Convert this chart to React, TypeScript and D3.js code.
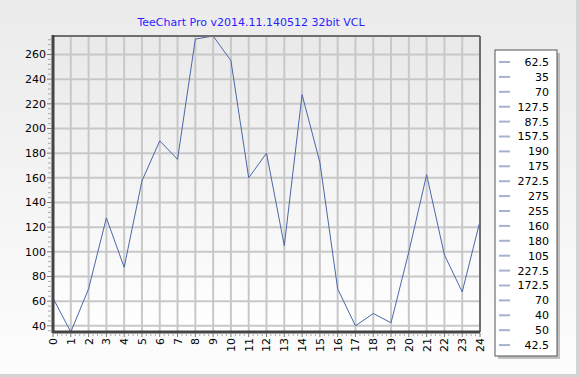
import React from "react";
import * as d3 from "d3";

const xValues = [0, 1, 2, 3, 4, 5, 6, 7, 8, 9, 10, 11, 12, 13, 14, 15, 16, 17, 18, 19, 20, 21, 22, 23, 24];
const yValues = [62.5, 35, 70, 127.5, 87.5, 157.5, 190, 175, 272.5, 275, 255, 160, 180, 105, 227.5, 172.5, 70, 40, 50, 42.5, 100, 162.5, 97.5, 67.5, 125];
const yTicks = [40, 60, 80, 100, 120, 140, 160, 180, 200, 220, 240, 260];
const legendCount = 20;
const title = "TeeChart Pro v2014.11.140512 32bit VCL";

const W = 579, H = 377;
const PL = 53, PR = 480, PT = 36, PB = 332;

export default function App() {
  const x = d3.scaleLinear().domain([0, 24]).range([PL, PR]);
  const y = d3.scaleLinear().domain([35, 275]).range([PB, PT]);
  const line = d3.line<number>().x((_, i) => x(xValues[i])).y((d) => y(d));
  const font = "'DejaVu Sans', Verdana, sans-serif";

  const yMinor: number[] = [];
  for (let v = 36; v <= 275; v += 4) if (v % 20 !== 0) yMinor.push(v);
  const xMinor: number[] = [];
  for (let i = 0; i < 24; i++) for (let k = 1; k < 4; k++) xMinor.push(i + k / 4);

  const legendItems = yValues.slice(0, legendCount);
  const LX = 495, LY = 50, LW = 62, LH = 306;

  return (
    <svg width={W} height={H} style={{ position: "absolute", left: 0, top: 0 }} xmlns="http://www.w3.org/2000/svg">
      <defs>
        <linearGradient id="bg" x1="0" y1="0" x2="0" y2="1">
          <stop offset="0" stopColor="#ebebeb" />
          <stop offset="1" stopColor="#fdfdfd" />
        </linearGradient>
        <linearGradient id="plotbg" x1="0" y1="0" x2="0" y2="1">
          <stop offset="0" stopColor="#e9e9e9" />
          <stop offset="1" stopColor="#ffffff" />
        </linearGradient>
      </defs>
      <rect x={0} y={0} width={W} height={H} fill="url(#bg)" />
      <rect x={0} y={H - 3} width={W} height={3} fill="#d4d4d4" />
      <rect x={W - 3} y={0} width={3} height={H} fill="#d4d4d4" />

      <text x={251} y={26} textAnchor="middle" fill="#2b1cff" fontFamily={font} fontSize={11}>{title}</text>

      <rect x={PL} y={PT} width={PR - PL} height={PB - PT} fill="url(#plotbg)" />
      {yTicks.map((t) => (
        <line key={"yg" + t} x1={PL} x2={PR} y1={y(t)} y2={y(t)} stroke="#c8c8c8" strokeWidth={2} />
      ))}
      {xValues.slice(1, -1).map((t) => (
        <line key={"xg" + t} x1={x(t)} x2={x(t)} y1={PT} y2={PB} stroke="#c8c8c8" strokeWidth={2} />
      ))}
      <path d={line(yValues) || ""} fill="none" stroke="#4a68a8" strokeWidth={1} />

      <line x1={PL} x2={PR} y1={PT} y2={PT} stroke="#6e6e6e" strokeWidth={2} />
      <line x1={PR} x2={PR} y1={PT} y2={PB} stroke="#6e6e6e" strokeWidth={2} />
      <line x1={PL} x2={PL} y1={PT - 1} y2={PB + 1} stroke="#444" strokeWidth={3} />
      <line x1={PL} x2={PR} y1={PB} y2={PB} stroke="#444" strokeWidth={3} />

      {yMinor.map((t) => (
        <line key={"ym" + t} x1={PL - 5} x2={PL - 1} y1={y(t)} y2={y(t)} stroke="#aaa" strokeWidth={1} />
      ))}
      {yTicks.map((t) => (
        <g key={"yt" + t}>
          <line x1={PL - 6} x2={PL - 1} y1={y(t)} y2={y(t)} stroke="#777" strokeWidth={1} />
          <text x={PL - 7} y={y(t)} dy="0.36em" textAnchor="end" fontFamily={font} fontSize={11} fill="#000">{t}</text>
        </g>
      ))}
      {xMinor.map((t, i) => (
        <line key={"xm" + i} x1={x(t)} x2={x(t)} y1={PB + 1} y2={PB + 4} stroke="#aaa" strokeWidth={1} />
      ))}
      {xValues.map((t) => (
        <g key={"xt" + t}>
          <line x1={x(t)} x2={x(t)} y1={PB + 1} y2={PB + 5} stroke="#777" strokeWidth={1} />
          <text transform={`translate(${x(t)},${PB + 6}) rotate(-90)`} dy="0.36em" textAnchor="end" fontFamily={font} fontSize={11} fill="#000">{t}</text>
        </g>
      ))}

      <rect x={LX + 3} y={LY + 3} width={LW} height={LH} fill="#9a9a9a" opacity={0.6} />
      <rect x={LX} y={LY} width={LW} height={LH} fill="#ffffff" stroke="#555" strokeWidth={1} />
      {legendItems.map((v, i) => {
        const cy = LY + 12 + i * 14.9;
        return (
          <g key={"lg" + i}>
            <line x1={LX + 4} x2={LX + 15} y1={cy} y2={cy} stroke="#a4b2d0" strokeWidth={2} />
            <text x={LX + 54} y={cy} dy="0.36em" textAnchor="end" fontFamily={font} fontSize={11} fill="#000">{v}</text>
          </g>
        );
      })}
    </svg>
  );
}
